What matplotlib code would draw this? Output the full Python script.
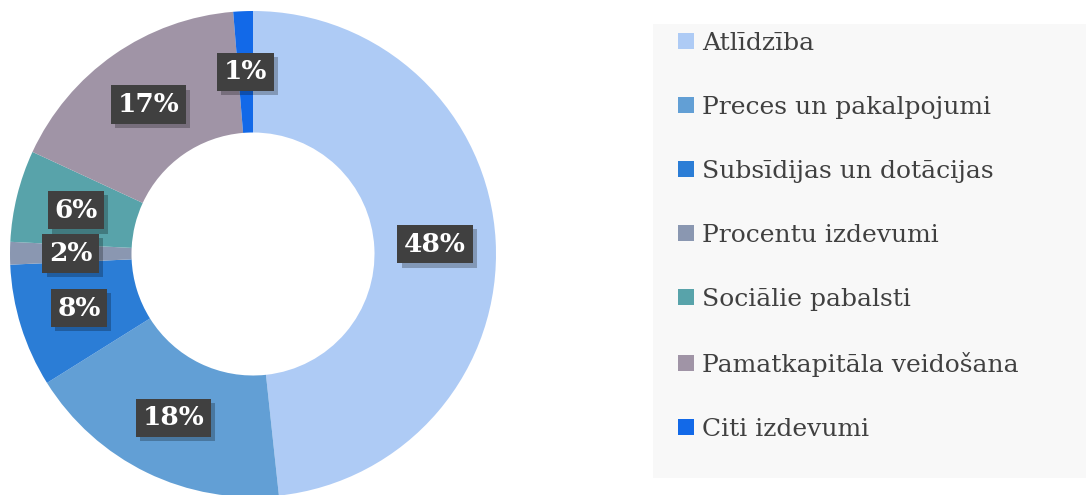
import matplotlib.pyplot as plt
import matplotlib.patheffects as pe
from matplotlib.patches import Rectangle

categories = ["Atlīdzība", "Preces un pakalpojumi", "Subsīdijas un dotācijas",
              "Procentu izdevumi", "Sociālie pabalsti", "Pamatkapitāla veidošana",
              "Citi izdevumi"]
shares = [48.3, 17.8, 8.2, 1.5, 6.1, 16.8, 1.3]
colors = ["#AECBF5", "#629FD5", "#2B7DD6", "#8A97B1", "#58A3AA", "#A094A6", "#1269E8"]

W, H = 1086, 495
fig = plt.figure(figsize=(W / 100, H / 100), dpi=100)
fig.patch.set_facecolor("white")

# grey legend panel
fig.patches.append(Rectangle((653 / W, (H - 478) / H), (W - 653) / W, (478 - 24) / H,
                             transform=fig.transFigure, facecolor="#F8F8F8",
                             edgecolor="none", zorder=0))

cx, cy, r = 253, 254, 243
ax = fig.add_axes([(cx - r) / W, (H - cy - r) / H, 2 * r / W, 2 * r / H])

wedges, texts, autotexts = ax.pie(
    shares, colors=colors, startangle=90, counterclock=False, radius=1,
    wedgeprops=dict(width=0.5, linewidth=0),
    autopct=lambda p: "%d%%" % round(p), pctdistance=0.75,
    textprops=dict(color="white", fontsize=19, fontweight="bold",
                   family="DejaVu Serif"))
ax.set_xlim(-1, 1)
ax.set_ylim(-1, 1)
ax.set_aspect("equal")
ax.axis("off")

for t in autotexts:
    t.set_bbox(dict(boxstyle="square,pad=0.25", facecolor="#404040", edgecolor="none"))
    t.get_bbox_patch().set_path_effects([
        pe.SimplePatchShadow(offset=(3, -3), shadow_rgbFace="#000000", alpha=0.25),
        pe.Normal()])

leg = fig.legend(wedges, categories, loc="upper left",
                 bbox_to_anchor=(668 / W, (H - 22) / H), frameon=False,
                 prop=dict(family="DejaVu Serif", size=18),
                 labelcolor="#404040", handlelength=0.62, handleheight=0.62,
                 handletextpad=0.35, labelspacing=1.64, borderaxespad=0)

fig.savefig("out.png", dpi=100, facecolor="white")
